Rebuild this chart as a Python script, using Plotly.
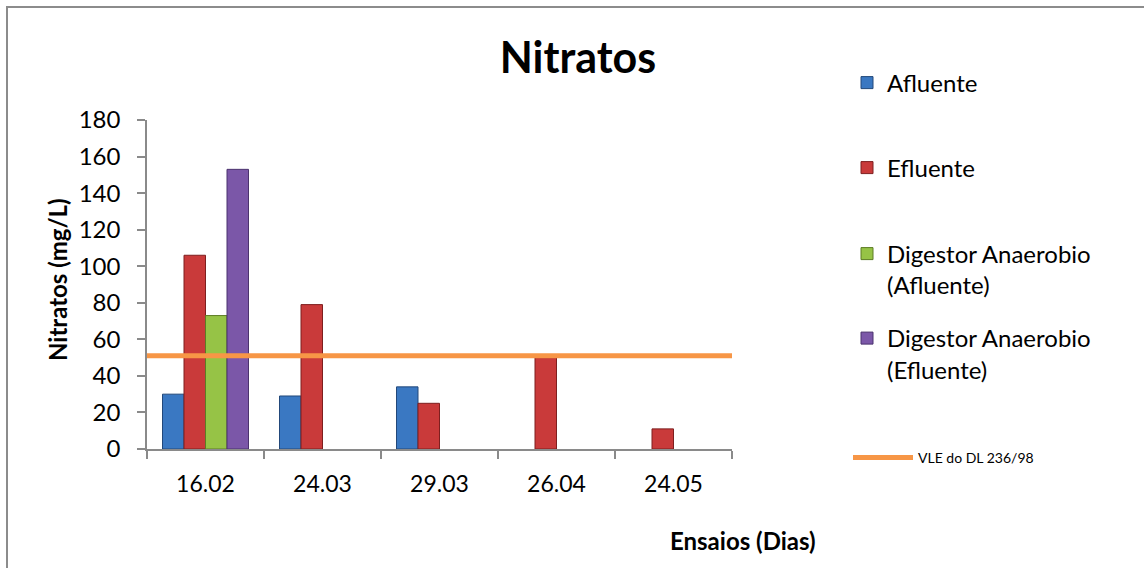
import plotly.graph_objects as go

categories = ["16.02", "24.03", "29.03", "26.04", "24.05"]
afluente = [30, 29, 34, None, None]
efluente = [106, 79, 25, 50, 11]
digestor_afluente = [73, None, None, None, None]
digestor_efluente = [153, None, None, None, None]
vle = 51
y_ticks = [0, 20, 40, 60, 80, 100, 120, 140, 160, 180]

FONT = "Lato"
W, H = 1144, 568
L, R, T, B = 147, 732, 120, 449


def px(xp):
    return (xp - L) / (R - L)


def py(yp):
    return (B - yp) / (B - T)


fig = go.Figure()

series = [
    ("Afluente", afluente, "#3A78C2", "#22487A", "legend"),
    ("Efluente", efluente, "#C93A3A", "#7E1F1F", "legend2"),
    ("Digestor Anaerobio<br>(Afluente)", digestor_afluente, "#96C346", "#5C7C24", "legend3"),
    ("Digestor Anaerobio<br>(Efluente)", digestor_efluente, "#7B57A8", "#4B336E", "legend4"),
]
for name, vals, col, lcol, lg in series:
    fig.add_trace(go.Bar(
        x=categories, y=vals, name=name,
        marker=dict(color=col, line=dict(color=lcol, width=1)),
        legend=lg,
    ))

fig.add_trace(go.Scatter(
    x=[0, 1], y=[vle, vle], xaxis="x2", mode="lines",
    name="VLE do DL 236/98",
    line=dict(color="#F79646", width=5),
    legend="legend5",
))

axis_col = "#8A8A8A"
fig.update_layout(
    width=W, height=H, autosize=False,
    margin=dict(l=L, r=W - R, t=T, b=H - B, pad=0),
    paper_bgcolor="white", plot_bgcolor="white",
    barmode="group", bargap=0.265, bargroupgap=0,
    font=dict(family=FONT, color="black", size=22),
    title=dict(text="<b>Nitratos</b>", x=578 / W, y=1 - 58 / H,
               xanchor="center", yanchor="middle",
               font=dict(family=FONT, size=43, color="black")),
    xaxis=dict(type="category", categoryorder="array", categoryarray=categories,
               showline=True, linecolor=axis_col, linewidth=1.5,
               ticks="outside", tickson="boundaries", ticklen=8, tickcolor=axis_col,
               tickwidth=1.5, showgrid=False, zeroline=False, ticklabelstandoff=14,
               tickfont=dict(size=23, family=FONT, color="black")),
    xaxis2=dict(overlaying="x", range=[0, 1], visible=False),
    yaxis=dict(range=[0, 180], tickvals=y_ticks, showline=True, linecolor=axis_col,
               linewidth=1.5, ticks="outside", ticklen=8, tickcolor=axis_col,
               tickwidth=1.5, showgrid=False, zeroline=False, ticklabelstandoff=12,
               tickfont=dict(size=24, family=FONT, color="black")),
    showlegend=True,
)

leg_font = dict(family=FONT, size=24, color="black")
fig.update_layout(
    legend=dict(x=px(847), y=py(83), xanchor="left", yanchor="middle", font=leg_font,
                bgcolor="rgba(0,0,0,0)", valign="top"),
    legend2=dict(x=px(847), y=py(168), xanchor="left", yanchor="middle", font=leg_font,
                 bgcolor="rgba(0,0,0,0)", valign="top"),
    legend3=dict(x=px(847), y=py(269.5), xanchor="left", yanchor="middle", font=leg_font,
                 bgcolor="rgba(0,0,0,0)", valign="top"),
    legend4=dict(x=px(847), y=py(354), xanchor="left", yanchor="middle", font=leg_font,
                 bgcolor="rgba(0,0,0,0)", valign="top"),
    legend5=dict(x=px(848), y=py(458), xanchor="left", yanchor="middle",
                 font=dict(family=FONT, size=14, color="black"),
                 bgcolor="rgba(0,0,0,0)", itemwidth=60),
)

fig.add_annotation(text="<b>Nitratos (mg/L)</b>", xref="paper", yref="paper",
                   x=px(57), y=py(280), xanchor="center", yanchor="middle",
                   textangle=-90, showarrow=False,
                   font=dict(family=FONT, size=24, color="black"))
fig.add_annotation(text="<b>Ensaios (Dias)</b>", xref="paper", yref="paper",
                   x=px(743), y=py(540), xanchor="center", yanchor="middle",
                   showarrow=False, font=dict(family=FONT, size=24, color="black"))

fig.add_shape(type="rect", xref="paper", yref="paper",
              x0=px(7), x1=px(1160), y0=py(7), y1=py(600),
              line=dict(color="#8C8C8C", width=2), fillcolor="rgba(0,0,0,0)", layer="below")

fig.write_html("out.html", config={"displayModeBar": False},
               post_script="document.body.style.margin='0';document.body.style.overflow='hidden';")
